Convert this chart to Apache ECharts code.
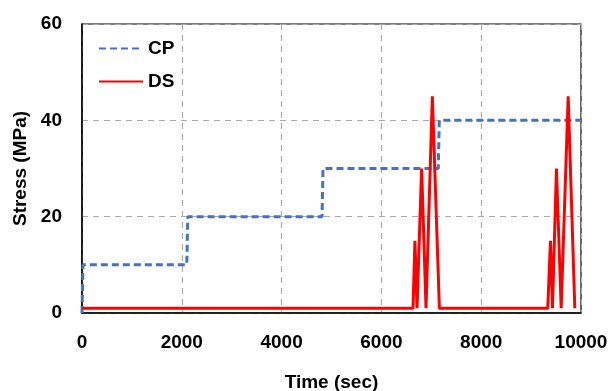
<!DOCTYPE html>
<html>
<head>
<meta charset="utf-8">
<script src="https://cdn.jsdelivr.net/npm/echarts@6/dist/echarts.min.js"></script>
<style>html,body{margin:0;padding:0;background:#fff}#c{width:614px;height:391px}</style>
</head>
<body>
<div id="c"></div>
<script>
var cpTime = [0, 20, 2100, 2120, 4810, 4830, 7140, 7160, 9990];
var cpStress = [0, 10, 10, 20, 20, 30, 30, 40, 40];
var dsTime = [0, 6634, 6672, 6714, 6806, 6894, 7021, 7162, 9334, 9388, 9428, 9508, 9603, 9743, 9876];
var dsStress = [1, 1, 15, 1, 30, 1, 45, 1, 1, 15, 1, 30, 1, 45, 1];
var xTicks = [0, 2000, 4000, 6000, 8000, 10000];
var yTicks = [0, 20, 40, 60];

function pairs(t, v) { return t.map(function (x, i) { return [x, v[i]]; }); }

var font = '"Liberation Sans", Arial, sans-serif';
var chart = echarts.init(document.getElementById('c'));
chart.setOption({
  animation: false,
  grid: { left: 82, right: 33, top: 24, bottom: 78, outerBoundsMode: 'none', containLabel: false,
          show: true, borderColor: '#000', borderWidth: 1.2, backgroundColor: 'transparent' },
  legend: {
    left: 93, top: 34, orient: 'vertical', itemGap: 14, itemWidth: 44, itemHeight: 14,
    itemStyle: { opacity: 0 },
    textStyle: { fontFamily: font, fontWeight: 'bold', fontSize: 19, color: '#000' },
    data: ['CP', 'DS']
  },
  xAxis: {
    type: 'value', min: xTicks[0], max: xTicks[xTicks.length - 1], interval: 2000,
    name: 'Time (sec)', nameLocation: 'middle', nameGap: 60,
    nameTextStyle: { fontFamily: font, fontWeight: 'bold', fontSize: 19, color: '#000' },
    axisLine: { lineStyle: { color: '#000', width: 1.5 } },
    axisTick: { show: false },
    axisLabel: { fontFamily: font, fontWeight: 'bold', fontSize: 19, color: '#000', margin: 20,
                 formatter: function (v) { return String(v); } },
    splitLine: { show: true, lineStyle: { color: '#aaa', type: [6, 5], width: 1.2 } }
  },
  yAxis: {
    type: 'value', min: yTicks[0], max: yTicks[yTicks.length - 1], interval: 20,
    name: 'Stress (MPa)', nameLocation: 'middle', nameGap: 52,
    nameTextStyle: { fontFamily: font, fontWeight: 'bold', fontSize: 19, color: '#000' },
    axisLine: { show: true, lineStyle: { color: '#000', width: 1.5 } },
    axisTick: { show: false },
    axisLabel: { fontFamily: font, fontWeight: 'bold', fontSize: 19, color: '#000', margin: 20,
                 formatter: function (v) { return String(v); } },
    splitLine: { show: true, lineStyle: { color: '#aaa', type: [6, 5], width: 1.2 } }
  },
  series: [
    { name: 'CP', type: 'line', symbol: 'none', data: pairs(cpTime, cpStress),
      lineStyle: { color: '#4472C4', width: 3, type: [7, 4] }, itemStyle: { color: '#4472C4' } },
    { name: 'DS', type: 'line', symbol: 'none', data: pairs(dsTime, dsStress),
      lineStyle: { color: '#FF0000', width: 3 }, itemStyle: { color: '#FF0000' } }
  ]
});
</script>
</body>
</html>
